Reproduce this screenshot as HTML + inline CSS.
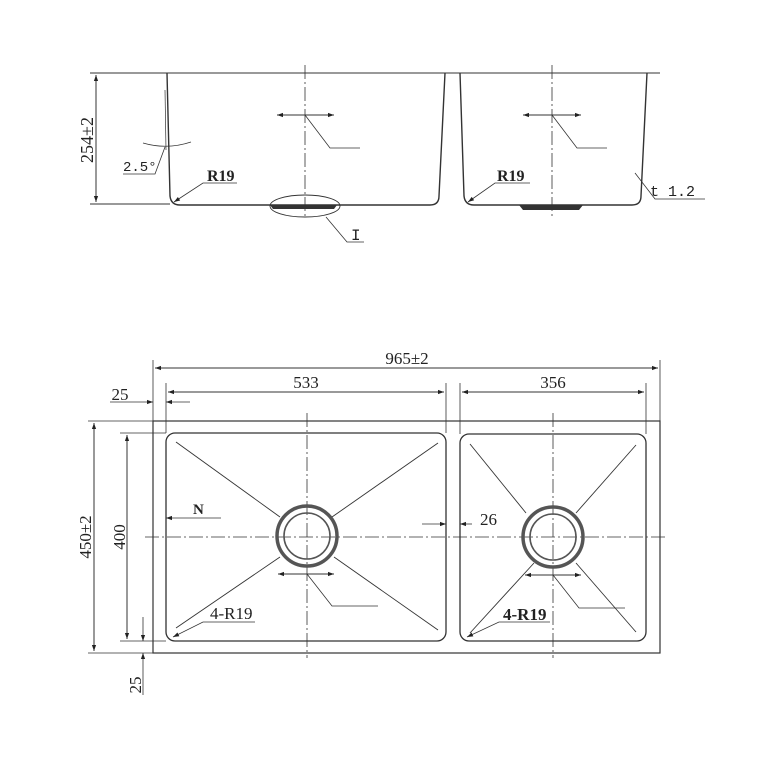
<!DOCTYPE html>
<html><head><style>html,body{margin:0;padding:0;background:#fff}svg{display:block}</style></head><body>
<svg width="768" height="768" viewBox="0 0 768 768" xmlns="http://www.w3.org/2000/svg">
<defs>
<marker id="a" viewBox="0 0 10 10" refX="10" refY="5" markerWidth="9" markerHeight="6" orient="auto-start-reverse" markerUnits="userSpaceOnUse"><path d="M0,1.5 L10,5 L0,8.5 Z" fill="#222"/></marker>
</defs>
<g fill="none" stroke="#333" stroke-width="1">
<line x1="90" y1="73" x2="660" y2="73"/>
<line x1="90" y1="204" x2="170" y2="204"/>
<path d="M167,73 L170,196 Q171,205 180,205 L430,205 Q439,205 439,196 L445,73" stroke-width="1.4"/>
<path d="M460,73 L464,196 Q465,205 474,205 L632,205 Q641,205 641,196 L647,73" stroke-width="1.4"/>
<line x1="96" y1="75" x2="96" y2="202" marker-start="url(#a)" marker-end="url(#a)"/>
<line x1="305" y1="65" x2="305" y2="218" stroke-dasharray="14,3,2,3" stroke-width="0.8"/>
<line x1="552" y1="65" x2="552" y2="218" stroke-dasharray="14,3,2,3" stroke-width="0.8"/>
<line x1="277" y1="115" x2="334" y2="115" marker-start="url(#a)" marker-end="url(#a)"/>
<polyline points="305,115 330,148 360,148" stroke-width="0.8"/>
<line x1="523" y1="115" x2="581" y2="115" marker-start="url(#a)" marker-end="url(#a)"/>
<polyline points="552,115 577,148 607,148" stroke-width="0.8"/>
<path d="M143,143 Q167,150 191,142" stroke-width="0.7"/>
<polyline points="123,174 155,174 165,147" stroke-width="0.8"/>
<line x1="165" y1="90" x2="166" y2="150" stroke-width="0.7"/>
<polyline points="237,183 203,183 174,202" stroke-width="0.8" marker-end="url(#a)"/>
<polyline points="530,183 495,183 468,202" stroke-width="0.8" marker-end="url(#a)"/>
<ellipse cx="305" cy="206" rx="35" ry="11" stroke-width="0.9"/>
<polyline points="326,217 347,242 364,242" stroke-width="0.8"/>
<polyline points="635,173 655,199 705,199" stroke-width="0.8"/>
<rect x="153" y="421" width="507" height="232" stroke-width="1.2"/>
<rect x="166" y="433" width="280" height="208" rx="9" stroke-width="1.3"/>
<rect x="460" y="434" width="186" height="207" rx="9" stroke-width="1.3"/>
<line x1="145" y1="537" x2="668" y2="537" stroke-dasharray="14,3,2,3" stroke-width="0.8"/>
<line x1="307" y1="413" x2="307" y2="658" stroke-dasharray="14,3,2,3" stroke-width="0.8"/>
<line x1="553" y1="413" x2="553" y2="658" stroke-dasharray="14,3,2,3" stroke-width="0.8"/>
<g stroke-width="0.9">
<line x1="176" y1="442" x2="280" y2="517"/><line x1="438" y1="443" x2="332" y2="517"/>
<line x1="176" y1="628" x2="280" y2="557"/><line x1="438" y1="630" x2="334" y2="557"/>
<line x1="470" y1="444" x2="526" y2="513"/><line x1="636" y1="445" x2="576" y2="513"/>
<line x1="470" y1="633" x2="534" y2="563"/><line x1="636" y1="632" x2="576" y2="563"/>
</g>
<circle cx="307" cy="536" r="30" stroke="#555" stroke-width="3.5"/>
<circle cx="307" cy="536" r="23" stroke="#555" stroke-width="1.6"/>
<circle cx="553" cy="537" r="30" stroke="#555" stroke-width="3.5"/>
<circle cx="553" cy="537" r="23" stroke="#555" stroke-width="1.6"/>
<line x1="153" y1="360" x2="153" y2="421" stroke-width="0.8"/>
<line x1="660" y1="360" x2="660" y2="421" stroke-width="0.8"/>
<line x1="155" y1="368" x2="658" y2="368" marker-start="url(#a)" marker-end="url(#a)"/>
<line x1="166" y1="383" x2="166" y2="433" stroke-width="0.8"/>
<line x1="446" y1="383" x2="446" y2="433" stroke-width="0.8"/>
<line x1="460" y1="383" x2="460" y2="434" stroke-width="0.8"/>
<line x1="646" y1="383" x2="646" y2="434" stroke-width="0.8"/>
<line x1="168" y1="392" x2="444" y2="392" marker-start="url(#a)" marker-end="url(#a)"/>
<line x1="462" y1="392" x2="644" y2="392" marker-start="url(#a)" marker-end="url(#a)"/>
<line x1="110" y1="402" x2="153" y2="402" marker-end="url(#a)" stroke-width="0.8"/>
<line x1="190" y1="402" x2="166" y2="402" marker-end="url(#a)" stroke-width="0.8"/>
<line x1="88" y1="421" x2="153" y2="421" stroke-width="0.8"/>
<line x1="88" y1="653" x2="153" y2="653" stroke-width="0.8"/>
<line x1="94" y1="423" x2="94" y2="651" marker-start="url(#a)" marker-end="url(#a)"/>
<line x1="120" y1="433" x2="166" y2="433" stroke-width="0.8"/>
<line x1="120" y1="641" x2="166" y2="641" stroke-width="0.8"/>
<line x1="127" y1="435" x2="127" y2="639" marker-start="url(#a)" marker-end="url(#a)"/>
<line x1="143" y1="617" x2="143" y2="641" marker-end="url(#a)" stroke-width="0.8"/>
<line x1="143" y1="695" x2="143" y2="653" marker-end="url(#a)" stroke-width="0.8"/>
<line x1="221" y1="518" x2="166" y2="518" marker-end="url(#a)" stroke-width="0.8"/>
<line x1="422" y1="524" x2="446" y2="524" marker-end="url(#a)" stroke-width="0.8"/>
<line x1="472" y1="524" x2="460" y2="524" marker-end="url(#a)" stroke-width="0.8"/>
<line x1="278" y1="574" x2="334" y2="574" marker-start="url(#a)" marker-end="url(#a)"/>
<polyline points="307,574 332,606 378,606" stroke-width="0.8"/>
<line x1="525" y1="575" x2="581" y2="575" marker-start="url(#a)" marker-end="url(#a)"/>
<polyline points="553,575 579,608 625,608" stroke-width="0.8"/>
<polyline points="255,622 203,622 173,637" stroke-width="0.8" marker-end="url(#a)"/>
<polyline points="550,622 499,622 467,637" stroke-width="0.8" marker-end="url(#a)"/>
</g>
<path d="M270,205 L337,205 L334,209 L273,209 Z" fill="#333"/>
<path d="M519,205 L583,205 L579,210 L523,210 Z" fill="#333"/>
<g font-family="Liberation Serif, serif" font-size="17" fill="#222">
<text transform="translate(93,140) rotate(-90)" text-anchor="middle" font-size="18">254±2</text>
<text x="123" y="171" font-family="Liberation Mono, monospace" font-size="14">2.5°</text>
<text x="207" y="181" font-weight="bold" font-size="16">R19</text>
<text x="497" y="181" font-weight="bold" font-size="16">R19</text>
<text x="351" y="240" font-family="Liberation Mono, monospace" font-size="16">I</text>
<text x="650" y="196" font-family="Liberation Mono, monospace" font-size="15">t 1.2</text>
<text x="407" y="364" text-anchor="middle">965±2</text>
<text x="306" y="388" text-anchor="middle">533</text>
<text x="553" y="388" text-anchor="middle">356</text>
<text x="120" y="400" text-anchor="middle">25</text>
<text transform="translate(91,537) rotate(-90)" text-anchor="middle">450±2</text>
<text transform="translate(125,537) rotate(-90)" text-anchor="middle">400</text>
<text transform="translate(141,685) rotate(-90)" text-anchor="middle">25</text>
<text x="193" y="514" font-weight="bold" font-size="15">N</text>
<text x="480" y="525">26</text>
<text x="210" y="619">4-R19</text>
<text x="503" y="620" font-weight="bold">4-R19</text>
</g>
</svg>
</body></html>
